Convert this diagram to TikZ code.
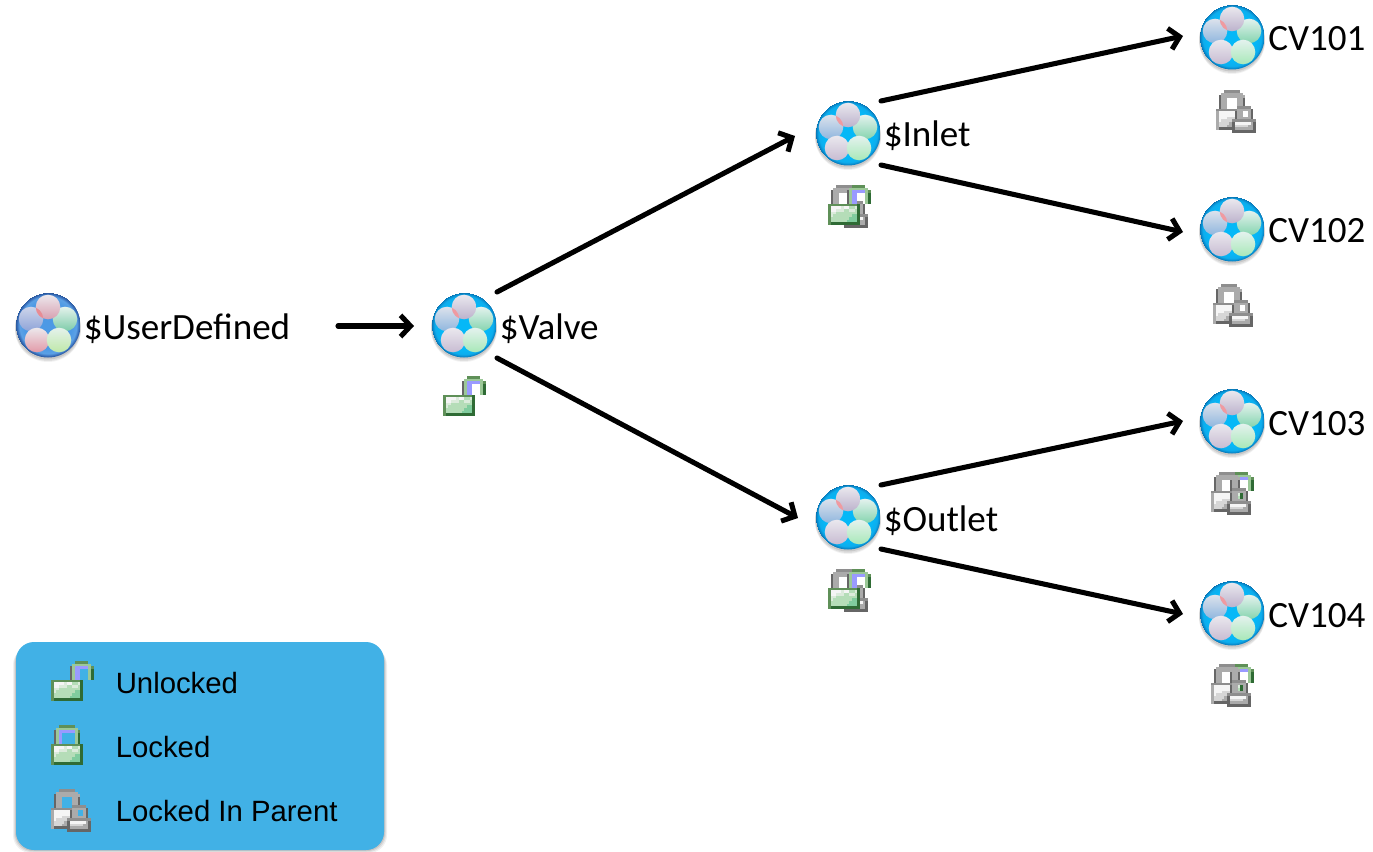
\documentclass[tikz,border=0pt]{standalone}
\usepackage{fontspec}
\setmainfont{Carlito}
\newfontfamily\legendfont{Liberation Sans}
\usetikzlibrary{arrows.meta,calc}
\definecolor{lkg}{HTML}{5F9058}\definecolor{lkD}{HTML}{2F6B35}\definecolor{lkl}{HTML}{9CC898}
\definecolor{lkb}{HTML}{9A9AFF}\definecolor{lkS}{HTML}{666666}\definecolor{lkw}{HTML}{F5F5F5}
\definecolor{lkv}{HTML}{DCEBDC}\definecolor{lkm}{HTML}{B5DDB8}\definecolor{lkn}{HTML}{80CC9E}
\definecolor{lkh}{HTML}{8E8E8E}\definecolor{lki}{HTML}{ABABAB}\definecolor{lkj}{HTML}{D6D6D6}
\definecolor{legendblue}{HTML}{41B1E6}
\newcount\pxx
\newcount\pxy
\def\pxloop#1{\ifx#1\relax\else
  \ifx#1.\else\fill[lk#1] (\the\pxx,\the\pxy) rectangle ++(1.03,1.03);\fi
  \advance\pxx by 1 \expandafter\pxloop\fi}
\newcommand\pxrow[1]{\pxx=0 \pxloop#1\relax\advance\pxy by 1 }
\newcommand\lockunlocked[1]{\begin{scope}[shift={(#1)},x=2pt,y=-2pt]\pxy=0
\pxrow{.........ggggg..}
\pxrow{........lllllll.}
\pxrow{.......Slbbbbblg}
\pxrow{.......Slbb...lD}
\pxrow{.......Slbb...lD}
\pxrow{.......Slbb...lD}
\pxrow{.......Slbb...lD}
\pxrow{gggggggggggD....}
\pxrow{gwwwwvwwmmvD....}
\pxrow{gwwvvvmmvvmD....}
\pxrow{gvvmmmmmmmmD....}
\pxrow{gvmmmmmmmnnD....}
\pxrow{gmmmmmmmnnnD....}
\pxrow{gmmmmmmnnnnD....}
\pxrow{gDDDDDDDDDDD....}
\end{scope}}
\newcommand\locklocked[1]{\begin{scope}[shift={(#1)},x=2pt,y=-2pt]\pxy=0
\pxrow{...gggggg...}
\pxrow{..llllllll..}
\pxrow{.Slbbbbbblg.}
\pxrow{.Slb.....lD.}
\pxrow{.Slb.....lD.}
\pxrow{.Slb.....lD.}
\pxrow{.Slb.....lD.}
\pxrow{gggggggggggD}
\pxrow{gwwwwvwwmmvD}
\pxrow{gwwvvvmmvvmD}
\pxrow{gvvmmmmmmmmD}
\pxrow{gvmmmmmmmnnD}
\pxrow{gmmmmmmmnnnD}
\pxrow{gmmmmmmnnnnD}
\pxrow{gDDDDDDDDDDD}
\end{scope}}
\newcommand\lockparent[1]{\begin{scope}[shift={(#1)},x=2pt,y=-2pt]\pxy=0
\pxrow{...hhhhhh......}
\pxrow{..iiiiiiii.....}
\pxrow{.Siiiiiiiii....}
\pxrow{.Sii....iiS....}
\pxrow{.Sii....iiS....}
\pxrow{.Sii....iiS....}
\pxrow{.Sii....hhhhh..}
\pxrow{hhhhhhhhiiiiiS.}
\pxrow{iwwwwwwSii..iS.}
\pxrow{iwwwwwwSii..iS.}
\pxrow{iwwwjjjSiiiiiS.}
\pxrow{iwjjjjhhhhhhhhh}
\pxrow{ijjjjiSwwwwwwiS}
\pxrow{ijjjiiSjjjjjiiS}
\pxrow{iSSSSSSiiiiiiiS}
\pxrow{......SSSSSSSSS}
\end{scope}}
\pgfdeclareradialshading{discblue}{\pgfpoint{0bp}{0bp}}{rgb(0bp)=(0.30,0.60,0.90);rgb(18bp)=(0.30,0.60,0.90);rgb(22bp)=(0.36,0.63,0.90);rgb(24bp)=(0.20,0.40,0.70);rgb(25bp)=(0.16,0.34,0.60)}
\pgfdeclareradialshading{disccyan}{\pgfpoint{0bp}{0bp}}{rgb(0bp)=(0.02,0.72,0.97);rgb(18bp)=(0.02,0.72,0.97);rgb(22.5bp)=(0.05,0.68,0.93);rgb(24.3bp)=(0.03,0.52,0.78);rgb(25bp)=(0.03,0.44,0.68)}
\newcommand\ball[5]{\shade[shading angle=#5,top color=#3,bottom color=#4] (#1,#2) circle[radius=12.3];}
\newcommand\classicon[2]{\begin{scope}[shift={(#1)}]
  \foreach \r/\s/\o in {33/4/.05,33/3/.08,32.5/2/.10}{\fill[black,opacity=\o] (0,\s) circle[radius=\r];}
  \shade[shading=#2] (0,0) circle[radius=32.5];
  \ball{-17}{-6}{#2top}{#2botl}{20}
  \ball{17}{-6}{#2hi}{#2botr}{-40}
  \ball{0}{-18}{#2pale}{#2mau}{0}
  \begin{scope}\clip (0,-18) circle[radius=12.3];\fill[#2pink] (-17,-6) circle[radius=12.3];\end{scope}
  \ball{-11}{15}{#2pale}{#2rose}{10}
  \ball{11}{15}{#2hi}{#2lime}{0}
\end{scope}}
\definecolor{discbluetop}{HTML}{CDD4EA}\definecolor{discbluebotl}{HTML}{8EA4D8}
\definecolor{disccyantop}{HTML}{DCE2EC}\definecolor{disccyanbotl}{HTML}{8FB6DE}
\definecolor{discbluehi}{HTML}{E4F2EC}\definecolor{discbluebotr}{HTML}{7CCBA8}
\definecolor{disccyanhi}{HTML}{E4F2EE}\definecolor{disccyanbotr}{HTML}{84D4AE}
\definecolor{discbluepale}{HTML}{ECE8EC}\definecolor{discbluemau}{HTML}{D89FB0}
\definecolor{disccyanpale}{HTML}{EAE8EE}\definecolor{disccyanmau}{HTML}{BCB2CC}
\definecolor{discbluepink}{HTML}{E88C94}\definecolor{disccyanpink}{HTML}{F09AA0}
\definecolor{discbluerose}{HTML}{E29AA8}\definecolor{disccyanrose}{HTML}{C8BCD2}
\definecolor{discbluelime}{HTML}{BFE8A8}\definecolor{disccyanlime}{HTML}{A8E8B8}
\tikzset{
  x=0.75pt,y=-0.75pt,
  classnode/.style={circle,minimum size=49.5pt,inner sep=0pt},
  classlabel/.style={anchor=base west,inner sep=0pt,font=\fontsize{27.8}{30}\selectfont,text=black},
  legendlabel/.style={anchor=base west,inner sep=0pt,font=\legendfont\fontsize{22}{25}\selectfont,text=black},
  conn/.style={draw=black,line width=3.8pt,line cap=round,-{Straight Barb[length=7.5pt,width=16pt,line width=3.8pt]}},
}
\begin{document}
\begin{tikzpicture}
\useasboundingbox (0,0) rectangle (1373,852);
% legend
\foreach \d/\o in {5/.06,4/.08,3/.1,2/.12}{\fill[black,opacity=\o,rounded corners=13.5pt] (16-\d+2,642+\d) rectangle (384+\d-2,850+\d-2);}
\node[fill=legendblue,rounded corners=13.5pt,minimum width=276pt,minimum height=156pt,inner sep=0pt] (legend) at (200,746) {};
\locklocked{51,725}
\lockunlocked{51,661}
\lockparent{51,789}
\node[legendlabel] (l1) at (115.5,693) {Unlocked};
\node[legendlabel] (l2) at (115.5,757) {Locked};
\node[legendlabel] (l3) at (115.5,821) {Locked In Parent};
% classes
\foreach \n/\p/\s in {ud/{48,325}/discblue,valve/{464,325}/disccyan,inlet/{848,133}/disccyan,outlet/{848,517}/disccyan,cva/{1232,37}/disccyan,cvb/{1232,229}/disccyan,cvc/{1232,421}/disccyan,cvd/{1232,613}/disccyan}{
  \node[classnode] (\n) at (\p) {};
  \classicon{\p}{\s}
}
\node[classlabel] (udl) at (83.5,339) {\$UserDefined};
\node[classlabel] (valvel) at (499.5,339) {\$Valve};
\node[classlabel] (inletl) at (883.5,147) {\$Inlet};
\node[classlabel] (outletl) at (883.5,531) {\$Outlet};
\node[classlabel] (cval) at (1268,51) {CV101};
\node[classlabel] (cvbl) at (1268,243) {CV102};
\node[classlabel] (cvcl) at (1268,435) {CV103};
\node[classlabel] (cvdl) at (1268,627) {CV104};
% locks
\lockunlocked{443,376}
\lockparent{828,185}\lockunlocked{828,185}
\lockparent{828,569}\lockunlocked{828,569}
\lockparent{1216,90}
\lockparent{1213,284}
\lockunlocked{1211,472}\lockparent{1211,472}
\lockunlocked{1211,664}\lockparent{1211,664}
% connectors
\draw[conn] ($(ud)+(290,1)$) -- ($(valve)+(-50,1)$);
\draw[conn] ($(valve)+(33,-33)$) -- ($(inlet)+(-53,3)$);
\draw[conn] ($(valve)+(33,33)$) -- ($(outlet)+(-50,1)$);
\draw[conn] ($(inlet)+(33,-32)$) -- ($(cva)+(-49,-1)$);
\draw[conn] ($(inlet)+(33,32)$) -- ($(cvb)+(-49,3)$);
\draw[conn] ($(outlet)+(33,-32)$) -- ($(cvc)+(-49,0)$);
\draw[conn] ($(outlet)+(33,32)$) -- ($(cvd)+(-49,1)$);
\end{tikzpicture}
\end{document}
